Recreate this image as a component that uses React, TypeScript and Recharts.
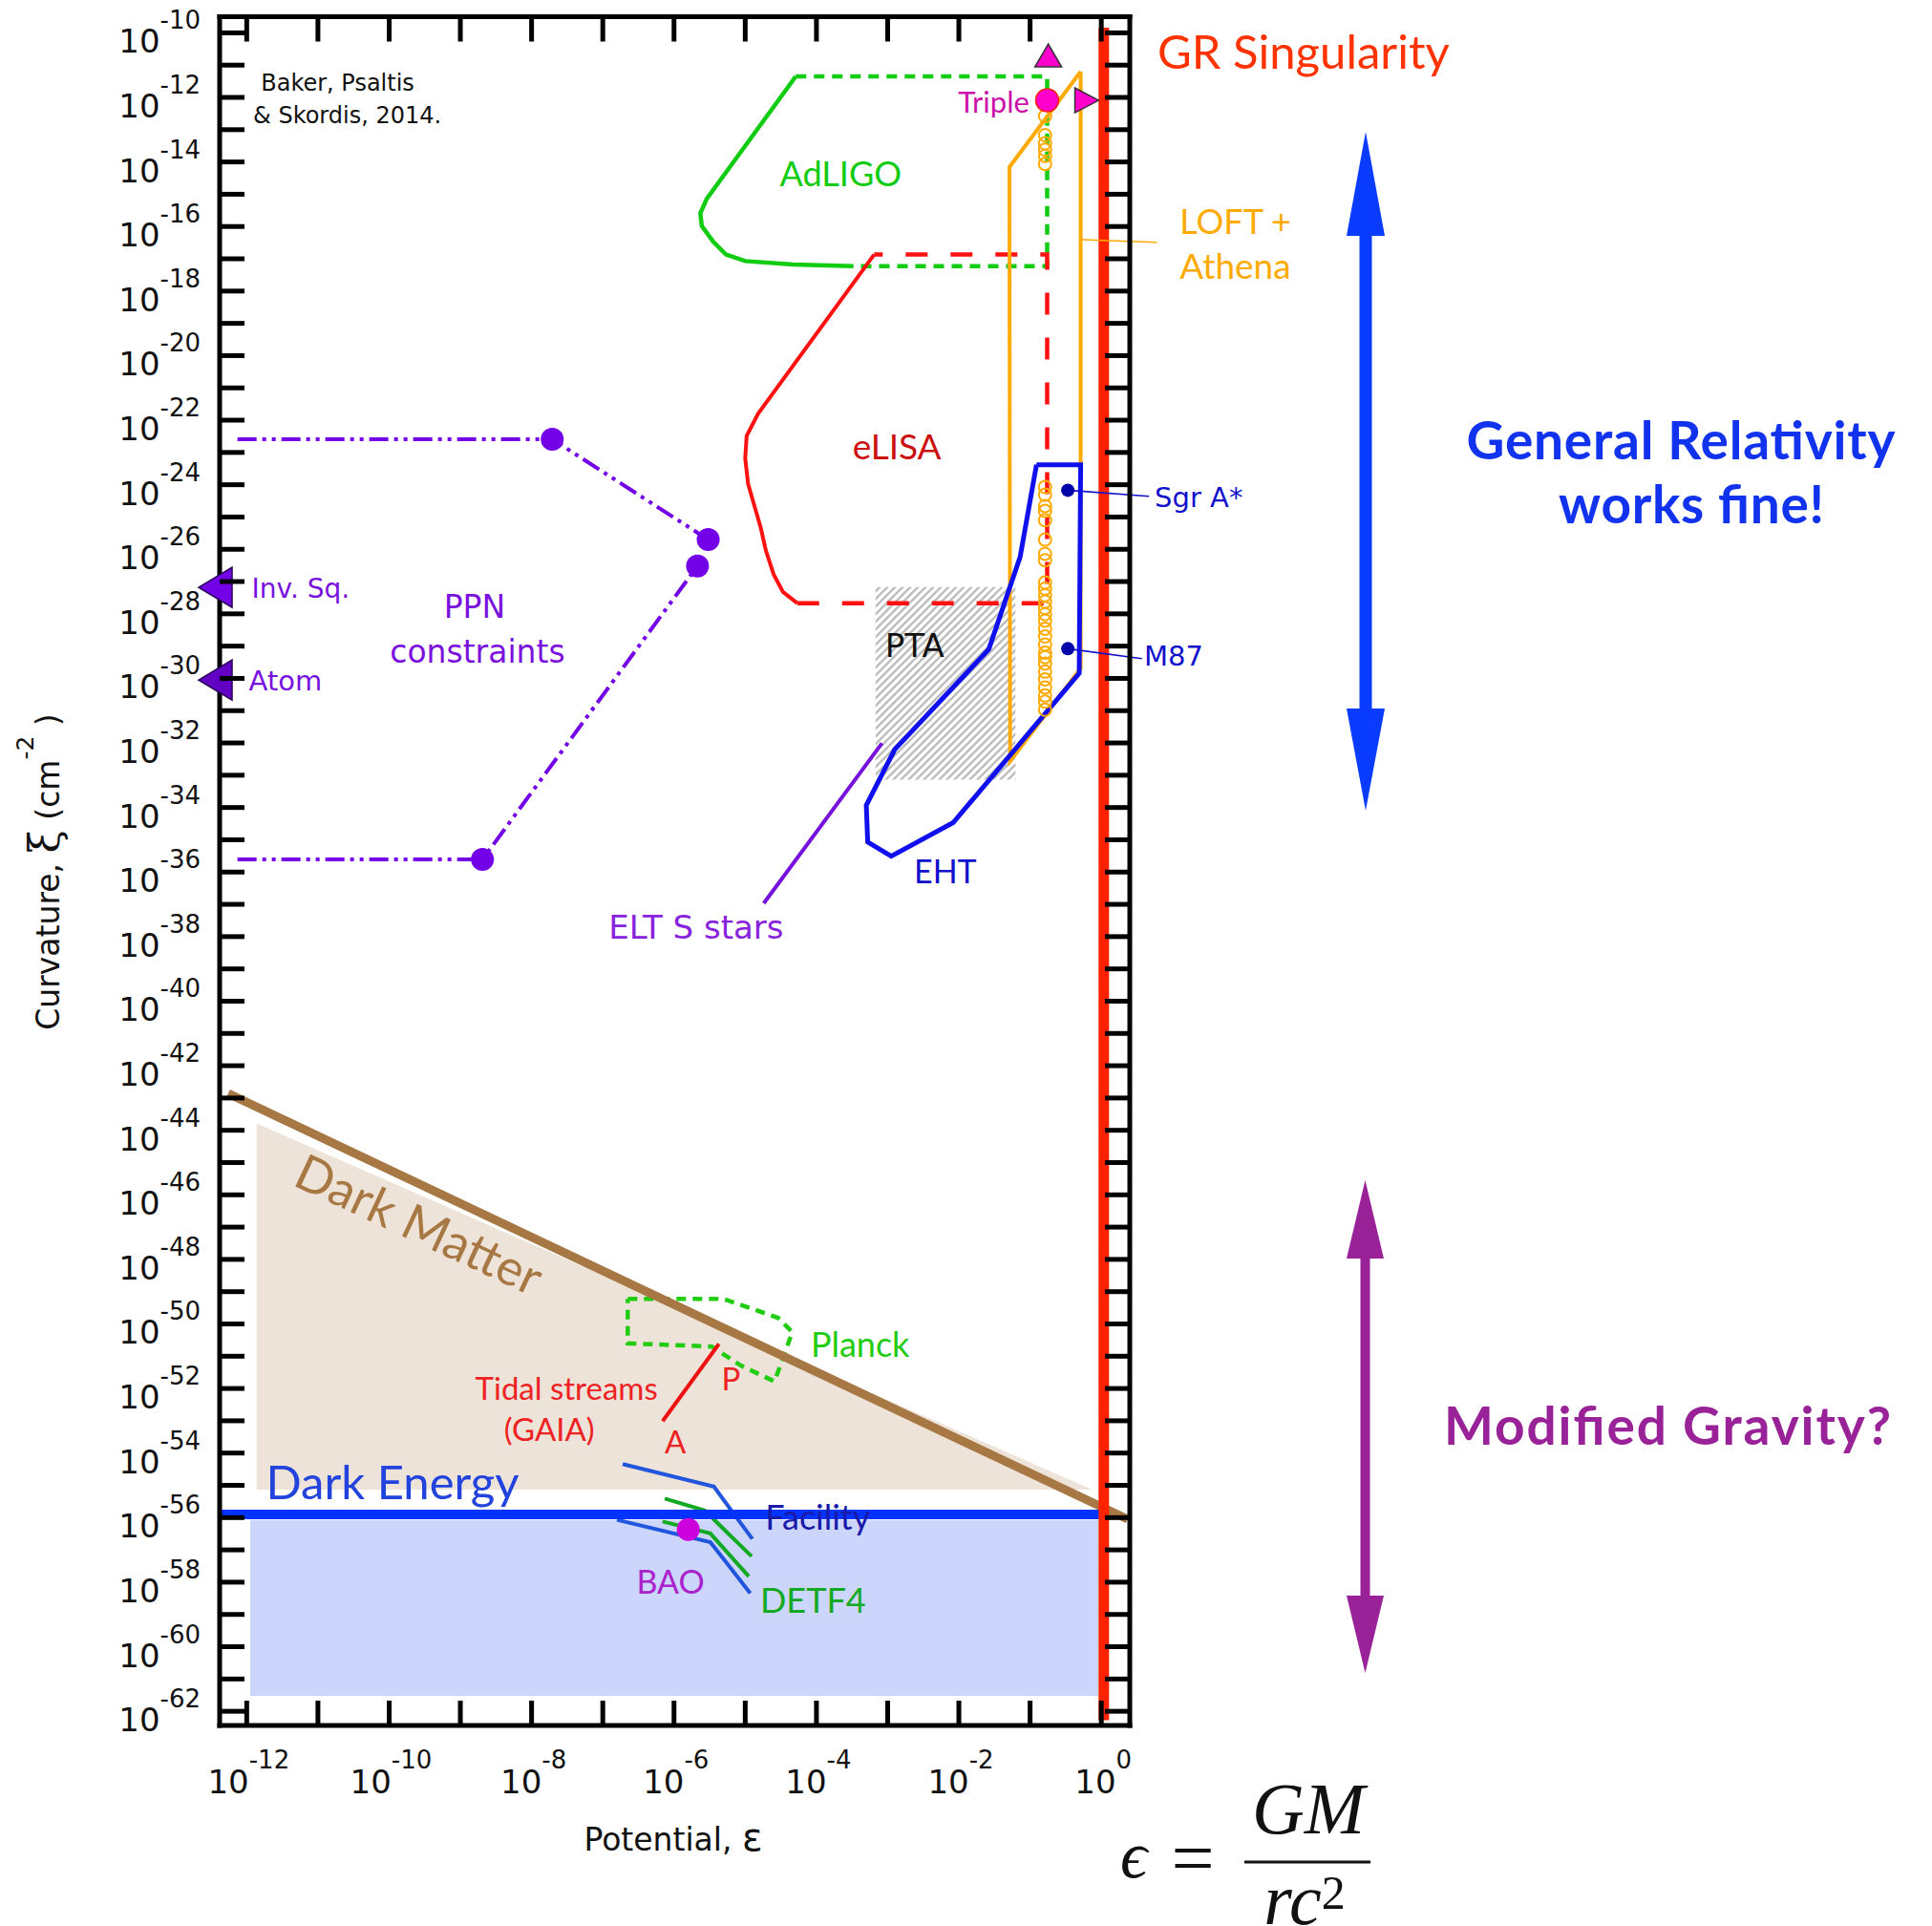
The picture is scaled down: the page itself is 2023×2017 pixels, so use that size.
import React from "react";
import {
  ComposedChart,
  XAxis,
  YAxis,
  Line,
  Area,
  Scatter,
  ReferenceArea,
  ReferenceLine,
  ReferenceDot,
} from "recharts";

type Pair = [number, number];

// every pair below is [log10 potential, log10 curvature]
const xTickExps = [-12, -11, -10, -9, -8, -7, -6, -5, -4, -3, -2, -1, 0];
const yTickExps = [
  -10, -11, -12, -13, -14, -15, -16, -17, -18, -19, -20, -21, -22, -23, -24, -25, -26, -27,
  -28, -29, -30, -31, -32, -33, -34, -35, -36, -37, -38, -39, -40, -41, -42, -43, -44, -45,
  -46, -47, -48, -49, -50, -51, -52, -53, -54, -55, -56, -57, -58, -59, -60, -61, -62,
];
const xDomainExp: Pair = [-12.38, 0.4];
const yDomainExp: Pair = [-62.44, -9.5];

const adligoEdge: Pair[] = [
  [-4.29, -11.35], [-5.54, -15.14], [-5.63, -15.59], [-5.61, -15.98], [-5.45, -16.47],
  [-5.27, -16.87], [-5.0, -17.07], [-4.33, -17.18], [-3.48, -17.23],
];
const adligoDash: Pair[] = [[-4.29, -11.35], [-0.76, -11.35], [-0.76, -17.23], [-3.48, -17.23]];
const elisaEdge: Pair[] = [
  [-3.19, -16.87], [-4.82, -21.8], [-4.98, -22.49], [-5.0, -23.18], [-4.96, -23.97],
  [-4.87, -24.66], [-4.78, -25.35], [-4.71, -26.04], [-4.6, -26.78], [-4.47, -27.32], [-4.27, -27.67],
];
const elisaDash: Pair[] = [[-4.27, -27.67], [-0.76, -27.67], [-0.76, -16.87], [-3.19, -16.87]];
const loftOutline: Pair[] = [[-0.29, -11.2], [-0.29, -29.69], [-1.28, -32.56], [-1.29, -14.16], [-0.29, -11.2]];
const loftLeader: Pair[] = [[-0.27, -16.41], [0.78, -16.49]];
const ehtOutline: Pair[] = [
  [-0.91, -23.38], [-0.29, -23.38], [-0.31, -29.84], [-2.08, -34.47], [-2.95, -35.51],
  [-3.28, -35.07], [-3.3, -33.93], [-2.9, -32.2], [-1.58, -29.1], [-1.14, -26.24], [-0.91, -23.38],
];
const ptaBox: Pair[] = [[-3.17, -27.17], [-1.205, -33.14]];
const eltLine: Pair[] = [[-3.08, -32.01], [-4.74, -36.97]];
const ppnUpper: Pair[] = [[-12.13, -22.59], [-7.71, -22.59], [-5.52, -25.7]];
const ppnLower: Pair[] = [[-12.13, -35.61], [-8.69, -35.61], [-5.67, -26.52]];
const ppnDots: Pair[] = [[-7.71, -22.59], [-5.52, -25.7], [-5.67, -26.52], [-8.69, -35.61]];
const labLimits: Pair[] = [[-12.38, -27.18], [-12.38, -30.05]];
const tripleDot: Pair[] = [[-0.76, -12.09]];
const tripleUp: Pair[] = [[-0.745, -10.7]];
const tripleRight: Pair[] = [[-0.21, -12.09]];
const loftSourcesX = -0.79;
const loftSourcesY = [
  -12.58, -13.17, -13.42, -13.62, -13.81, -14.06,
  -24.07, -24.31, -24.66, -24.81, -25.1, -25.7, -26.14, -26.34, -27.03, -27.22, -27.42, -27.62,
  -27.82, -28.01, -28.21, -28.46, -28.7, -28.95, -29.2, -29.34, -29.54, -29.79, -30.03, -30.28,
  -30.53, -30.72, -30.97,
];
const bhDots: Pair[] = [[-0.47, -24.17], [-0.47, -29.08]];
const sgrLeader: Pair[] = [[-0.47, -24.17], [0.67, -24.36]];
const m87Leader: Pair[] = [[-0.47, -29.08], [0.57, -29.39]];
const darkMatterEdge: Pair[] = [[-12.26, -42.86], [0.37, -56.05]];
const darkMatterFill: Pair[] = [[-11.86, -43.79], [-0.13, -55.13]];
const darkMatterBase = -55.13;
const darkEnergyLine: Pair[] = [[-12.38, -55.9], [-0.03, -55.9]];
const darkEnergyBox: Pair[] = [[-11.95, -56.07], [-0.04, -61.52]];
const grLine: Pair[] = [[0.035, -9.84], [0.035, -62.28]];
const planckOutline: Pair[] = [
  [-6.65, -49.22], [-5.31, -49.22], [-4.54, -49.81], [-4.34, -50.25], [-4.49, -51.19],
  [-4.59, -51.78], [-5.06, -51.29], [-5.47, -50.7], [-6.65, -50.6], [-6.65, -49.22],
];
const tidalLine: Pair[] = [[-5.37, -50.62], [-6.16, -53.01]];
const facilityUpper: Pair[] = [[-6.72, -54.34], [-5.44, -55.04], [-4.9, -56.66]];
const detfUpper: Pair[] = [[-6.13, -55.41], [-5.57, -55.78], [-4.91, -57.2]];
const detfLower: Pair[] = [[-6.16, -56.12], [-5.49, -56.49], [-4.95, -57.82]];
const facilityLower: Pair[] = [[-6.8, -56.07], [-5.49, -56.76], [-4.93, -58.34]];
const baoDot: Pair[] = [[-5.8, -56.37]];

const FONT_TICK = "'DejaVu Sans', sans-serif";
const FONT_LABEL = "Lato, 'Open Sans', sans-serif";

type Note = {
  text: string;
  at: Pair;
  color: string;
  size: number;
  anchor?: "start" | "middle" | "end";
  family?: string;
  rotate?: number;
};

const notes: Note[] = [
  { text: "Baker, Psaltis", at: [-11.8, -11.57], color: "#111", size: 24, anchor: "start", family: FONT_TICK },
  { text: "& Skordis, 2014.", at: [-11.91, -12.57], color: "#111", size: 24, anchor: "start", family: FONT_TICK },
  { text: "AdLIGO", at: [-3.66, -14.35], color: "#11cc11", size: 36 },
  { text: "eLISA", at: [-2.87, -22.78], color: "#cc1111", size: 37 },
  { text: "Triple", at: [-1.01, -12.12], color: "#cc11aa", size: 31, anchor: "end" },
  { text: "PTA", at: [-2.62, -28.98], color: "#111", size: 34, family: FONT_TICK },
  { text: "EHT", at: [-2.19, -35.95], color: "#1111cc", size: 34 },
  { text: "ELT S stars", at: [-5.69, -37.71], color: "#8822dd", size: 34, family: FONT_TICK },
  { text: "PPN", at: [-8.8, -27.77], color: "#7a11dd", size: 33, family: FONT_TICK },
  { text: "constraints", at: [-8.76, -29.16], color: "#7a11dd", size: 33, family: FONT_TICK },
  { text: "Inv. Sq.", at: [-11.93, -27.23], color: "#7711dd", size: 28, anchor: "start", family: FONT_TICK },
  { text: "Atom", at: [-11.97, -30.07], color: "#7711dd", size: 29, anchor: "start", family: FONT_TICK },
  { text: "Dark Matter", at: [-9.57, -46.88], color: "#a87844", size: 52, rotate: 25 },
  { text: "Planck", at: [-4.08, -50.6], color: "#22cc11", size: 36, anchor: "start" },
  { text: "Tidal streams", at: [-7.51, -51.97], color: "#ee2222", size: 33 },
  { text: "(GAIA)", at: [-7.75, -53.25], color: "#ee2222", size: 33 },
  { text: "P", at: [-5.2, -51.67], color: "#ee2222", size: 33 },
  { text: "A", at: [-5.98, -53.63], color: "#ee2222", size: 33 },
  { text: "Dark Energy", at: [-11.73, -54.87], color: "#2244dd", size: 49, anchor: "start" },
  { text: "Facility", at: [-4.72, -55.96], color: "#1a1aaa", size: 36, anchor: "start" },
  { text: "BAO", at: [-6.05, -57.97], color: "#aa22cc", size: 34 },
  { text: "DETF4", at: [-4.79, -58.54], color: "#11aa22", size: 36, anchor: "start" },
  { text: "GR Singularity", at: [0.79, -10.56], color: "#ff3300", size: 49, anchor: "start" },
  { text: "LOFT +", at: [1.1, -15.81], color: "#ffaa00", size: 36, anchor: "start" },
  { text: "Athena", at: [1.1, -17.18], color: "#ffaa00", size: 37, anchor: "start" },
  { text: "Sgr A*", at: [0.75, -24.39], color: "#1111cc", size: 29, anchor: "start", family: FONT_TICK },
  { text: "M87", at: [0.6, -29.31], color: "#1111cc", size: 29, anchor: "start", family: FONT_TICK },
];

const toPts = (arr: Pair[]) => arr.map(([a, b]) => ({ x: 10 ** a, y: 10 ** b }));
const expOf = (v: number) => Math.round(Math.log10(v));
const frameLine = { stroke: "#000", strokeWidth: 5, strokeLinecap: "square" as const };

function BottomTick({ x, y, payload }: any) {
  const e = expOf(payload.value);
  return (
    <g>
      <line x1={x} y1={y} x2={x} y2={y - 26} stroke="#000" strokeWidth={5} />
      {e % 2 === 0 ? (
        <text x={x + 2} y={y + 71} textAnchor="middle" fontFamily={FONT_TICK} fontSize={34} fill="#111">
          10<tspan dy={-26} fontSize={26}>{String(e)}</tspan>
        </text>
      ) : null}
    </g>
  );
}

function TopTick({ x, y }: any) {
  return <line x1={x} y1={y} x2={x} y2={y + 26} stroke="#000" strokeWidth={5} />;
}

function LeftTick({ x, y, payload }: any) {
  const e = expOf(payload.value);
  return (
    <g>
      <line x1={x} y1={y} x2={x + 26} y2={y} stroke="#000" strokeWidth={5} />
      {e % 2 === 0 ? (
        <text x={x - 20} y={y + 21} textAnchor="end" fontFamily={FONT_TICK} fontSize={34} fill="#111">
          10<tspan dy={-25} fontSize={26}>{String(e)}</tspan>
        </text>
      ) : null}
    </g>
  );
}

function RightTick({ x, y }: any) {
  return <line x1={x} y1={y} x2={x - 26} y2={y} stroke="#000" strokeWidth={5} />;
}

function NoteText(props: any) {
  const vb = props.viewBox || props;
  const n: Note = props.note;
  const cx = vb.x + (vb.width || 0) / 2;
  const cy = vb.y + (vb.height || 0) / 2;
  return (
    <text
      x={cx}
      y={cy}
      textAnchor={n.anchor ?? "middle"}
      dominantBaseline="central"
      fill={n.color}
      fontSize={n.size}
      fontFamily={n.family ?? FONT_LABEL}
      transform={n.rotate ? `rotate(${n.rotate}, ${cx}, ${cy})` : undefined}
    >
      {n.text}
    </text>
  );
}

const curve = (key: string, arr: Pair[], stroke: string, width: number, dash?: string) => (
  <Line
    key={key}
    data={toPts(arr)}
    dataKey="y"
    type="linear"
    stroke={stroke}
    strokeWidth={width}
    strokeDasharray={dash}
    dot={false}
    activeDot={false}
    legendType="none"
    isAnimationActive={false}
  />
);

const dots = (key: string, arr: Pair[], shape: (p: any) => React.ReactElement) => (
  <Scatter key={key} data={toPts(arr)} dataKey="y" shape={shape} legendType="none" isAnimationActive={false} />
);

const leader = (key: string, arr: Pair[], color: string) => (
  <ReferenceLine
    key={key}
    segment={toPts(arr)}
    stroke={color}
    strokeWidth={1.6}
    ifOverflow="visible"
  />
);

function Overlay() {
  return (
    <svg width={2023} height={2017} style={{ position: "absolute", left: 0, top: 0, pointerEvents: "none" }}>
      <defs>
        <pattern id="ptaHatch" width={8} height={8} patternUnits="userSpaceOnUse">
          <rect width={8} height={8} fill="#ffffff" />
          <path d="M-2,2 L2,-2 M0,8 L8,0 M6,10 L10,6" stroke="#bcbcbc" strokeWidth={2.3} />
        </pattern>
      </defs>
      <text x={62} y={913} transform="rotate(-90, 62, 913)" textAnchor="middle" fontFamily={FONT_TICK} fontSize={33} fill="#111">
        {"Curvature, "}
        <tspan fontSize={44} fontFamily="'DejaVu Serif', serif">ξ</tspan>
        {" (cm"}
        <tspan dy={-27} fontSize={25}>-2</tspan>
        <tspan dy={27}>{" )"}</tspan>
      </text>
      <text x={705} y={1938} textAnchor="middle" fontFamily={FONT_TICK} fontSize={33} fill="#111">
        {"Potential, "}
        <tspan fontSize={40}>ε</tspan>
      </text>

      <polygon
        points="1430,138 1450,247 1436.5,247 1436.5,742 1450,742 1430,849 1410,742 1423.5,742 1423.5,247 1410,247"
        fill="#0a3cff"
      />
      <polygon
        points="1429.5,1236 1449,1318 1434.5,1318 1434.5,1671 1449,1671 1429.5,1752 1410,1671 1424.5,1671 1424.5,1318 1410,1318"
        fill="#992299"
      />
      <g fontFamily={FONT_LABEL} fontWeight={700} fontSize={55} textAnchor="middle">
        <text x={1760} y={481} fill="#1133ee" textLength={449} lengthAdjust="spacing">General Relativity</text>
        <text x={1771} y={548} fill="#1133ee" textLength={278} lengthAdjust="spacing">works fine!</text>
        <text x={1746} y={1513} fill="#992299" textLength={468} lengthAdjust="spacing">Modified Gravity?</text>
      </g>

      <g fontFamily="'Liberation Serif', 'DejaVu Serif', serif" fill="#111">
        <text x={1187} y={1966} textAnchor="middle" fontSize={70} fontStyle="italic">ϵ</text>
        <text x={1249} y={1973} textAnchor="middle" fontSize={80}>=</text>
        <line x1={1303} y1={1950} x2={1435} y2={1950} stroke="#111" strokeWidth={3} />
        <text x={1370} y={1920} textAnchor="middle" fontSize={76} fontStyle="italic">GM</text>
        <text x={1366} y={2015} textAnchor="middle" fontSize={76} fontStyle="italic">
          rc<tspan dy={-16} fontSize={50} fontStyle="normal">2</tspan>
        </text>
      </g>
    </svg>
  );
}

export default function App() {
  const W = 2023;
  const H = 2017;
  const xDomain = [10 ** xDomainExp[0], 10 ** xDomainExp[1]];
  const yDomain = [10 ** yDomainExp[0], 10 ** yDomainExp[1]];
  const xTicks = xTickExps.map((e) => 10 ** e);
  const yTicks = yTickExps.map((e) => 10 ** e);
  const sourcePts: Pair[] = loftSourcesY.map((v) => [loftSourcesX, v]);

  return (
    <div style={{ position: "absolute", left: 0, top: 0, width: W, height: H, background: "#fff", overflow: "hidden" }}>
      <ComposedChart width={W} height={H} margin={{ top: 7.5, right: 780, bottom: 150, left: 170 }}>
        <XAxis
          dataKey="x"
          type="number"
          scale="log"
          domain={xDomain}
          allowDataOverflow
          ticks={xTicks}
          interval={0}
          tickSize={0}
          tickMargin={0}
          tickLine={false}
          axisLine={frameLine}
          tick={<BottomTick />}
          height={60}
        />
        <XAxis
          xAxisId="top"
          orientation="top"
          dataKey="x"
          type="number"
          scale="log"
          domain={xDomain}
          allowDataOverflow
          ticks={xTicks}
          interval={0}
          tickSize={0}
          tickMargin={0}
          tickLine={false}
          axisLine={frameLine}
          tick={<TopTick />}
          height={10}
        />
        <YAxis
          dataKey="y"
          type="number"
          scale="log"
          domain={yDomain}
          allowDataOverflow
          ticks={yTicks}
          interval={0}
          tickSize={0}
          tickMargin={0}
          tickLine={false}
          axisLine={frameLine}
          tick={<LeftTick />}
          width={60}
        />
        <YAxis
          yAxisId="right"
          orientation="right"
          dataKey="y"
          type="number"
          scale="log"
          domain={yDomain}
          allowDataOverflow
          ticks={yTicks}
          interval={0}
          tickSize={0}
          tickMargin={0}
          tickLine={false}
          axisLine={frameLine}
          tick={<RightTick />}
          width={60}
        />

        <ReferenceArea
          x1={10 ** darkEnergyBox[0][0]}
          x2={10 ** darkEnergyBox[1][0]}
          y1={10 ** darkEnergyBox[0][1]}
          y2={10 ** darkEnergyBox[1][1]}
          fill="#ccd5fb"
          fillOpacity={1}
          stroke="none"
          ifOverflow="visible"
        />
        <Area
          data={toPts(darkMatterFill)}
          dataKey="y"
          type="linear"
          baseValue={10 ** darkMatterBase}
          fill="#ede3d9"
          fillOpacity={1}
          stroke="none"
          legendType="none"
          isAnimationActive={false}
        />
        <ReferenceArea
          x1={10 ** ptaBox[0][0]}
          x2={10 ** ptaBox[1][0]}
          y1={10 ** ptaBox[0][1]}
          y2={10 ** ptaBox[1][1]}
          fill="url(#ptaHatch)"
          fillOpacity={1}
          stroke="none"
          ifOverflow="visible"
        />

        {curve("ppnU", ppnUpper, "#7300e6", 4, "20 6 4 6 4 6")}
        {curve("ppnL", ppnLower, "#7300e6", 4, "20 6 4 6 4 6")}
        {curve("elt", eltLine, "#7711dd", 4)}
        {curve("adligo", adligoEdge, "#11cc11", 4.5)}
        {curve("adligoDash", adligoDash, "#11cc11", 4.5, "11 8")}
        {curve("elisa", elisaEdge, "#ff1111", 4)}
        {curve("elisaDash", elisaDash, "#ff1111", 4.5, "23 24")}
        {curve("loft", loftOutline, "#ffaa00", 4)}
        {curve("eht", ehtOutline, "#1010ee", 5)}
        {curve("planck", planckOutline, "#22cc11", 4.5, "10 7")}
        {curve("tidal", tidalLine, "#ee1111", 4)}
        {curve("facU", facilityUpper, "#2255dd", 4)}
        {curve("detfU", detfUpper, "#11aa22", 4)}
        {curve("detfL", detfLower, "#11aa22", 4)}
        {curve("facL", facilityLower, "#2255dd", 4)}
        {curve("dm", darkMatterEdge, "#a87844", 9)}
        {curve("de", darkEnergyLine, "#0033ff", 10)}
        {curve("gr", grLine, "#ff2200", 11)}

        {dots("sources", sourcePts, (p: any) => (
          <circle cx={p.cx} cy={p.cy} r={6.5} fill="none" stroke="#ffaa00" strokeWidth={2} />
        ))}
        {dots("ppnDots", ppnDots, (p: any) => <circle cx={p.cx} cy={p.cy} r={12} fill="#7300e6" />)}
        {dots("triple", tripleDot, (p: any) => (
          <circle cx={p.cx} cy={p.cy} r={12} fill="#ff00cc" stroke="#ff2200" strokeWidth={1.5} />
        ))}
        {dots("tripleUp", tripleUp, (p: any) => (
          <polygon
            points={`${p.cx},${p.cy - 12} ${p.cx - 14},${p.cy + 12} ${p.cx + 14},${p.cy + 12}`}
            fill="#ff00cc"
            stroke="#333"
            strokeWidth={1.5}
          />
        ))}
        {dots("tripleRight", tripleRight, (p: any) => (
          <polygon
            points={`${p.cx + 13},${p.cy} ${p.cx - 12},${p.cy - 13} ${p.cx - 12},${p.cy + 13}`}
            fill="#ff00cc"
            stroke="#333"
            strokeWidth={1.5}
          />
        ))}
        {dots("bh", bhDots, (p: any) => <circle cx={p.cx} cy={p.cy} r={7} fill="#0000aa" />)}
        {dots("bao", baoDot, (p: any) => <circle cx={p.cx} cy={p.cy} r={12} fill="#cc00dd" />)}

        {leader("loftLeader", loftLeader, "#ffaa00")}
        {leader("sgrLeader", sgrLeader, "#1111cc")}
        {leader("m87Leader", m87Leader, "#1111cc")}

        {labLimits.map(([a, b], i) => (
          <ReferenceDot
            key={`lab${i}`}
            x={10 ** a}
            y={10 ** b}
            ifOverflow="visible"
            shape={(p: any) => (
              <polygon
                points={`${p.cx - 22},${p.cy} ${p.cx + 13},${p.cy - 21} ${p.cx + 13},${p.cy + 21}`}
                fill={i === 0 ? "#7300e6" : "#6200c4"}
                stroke="#2a0055"
                strokeWidth={1.5}
              />
            )}
          />
        ))}

        {notes.map((n) => (
          <ReferenceDot
            key={n.text}
            x={10 ** n.at[0]}
            y={10 ** n.at[1]}
            r={0}
            fill="none"
            stroke="none"
            ifOverflow="visible"
            label={<NoteText note={n} />}
          />
        ))}
      </ComposedChart>
      <Overlay />
    </div>
  );
}
